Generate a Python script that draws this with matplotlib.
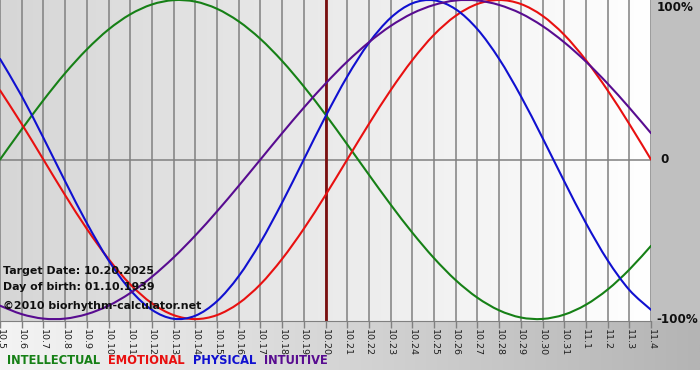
import numpy as np
import matplotlib
matplotlib.use("Agg")
import matplotlib.pyplot as plt
from matplotlib.colors import LinearSegmentedColormap
from matplotlib.path import Path
from matplotlib.patches import PathPatch

# ---- data ----
dates = ["10.5", "10.6", "10.7", "10.8", "10.9", "10.10", "10.11", "10.12", "10.13",
         "10.14", "10.15", "10.16", "10.17", "10.18", "10.19", "10.20", "10.21", "10.22",
         "10.23", "10.24", "10.25", "10.26", "10.27", "10.28", "10.29", "10.30", "10.31",
         "11.1", "11.2", "11.3", "11.4"]
intellectual = [0.0, 0.189, 0.372, 0.541, 0.690, 0.815, 0.910, 0.972, 0.999, 0.990, 0.945,
                0.866, 0.756, 0.618, 0.458, 0.282, 0.095, -0.095, -0.282, -0.458, -0.618,
                -0.756, -0.866, -0.945, -0.990, -0.999, -0.972, -0.910, -0.815, -0.690, -0.541]
emotional = [0.434, 0.223, 0.0, -0.223, -0.434, -0.623, -0.782, -0.901, -0.975, -1.0, -0.975,
             -0.901, -0.782, -0.623, -0.434, -0.223, 0.0, 0.223, 0.434, 0.623, 0.782,
             0.901, 0.975, 1.0, 0.975, 0.901, 0.782, 0.623, 0.434, 0.223, 0.0]
physical = [0.631, 0.398, 0.136, -0.136, -0.398, -0.631, -0.817, -0.942, -0.998, -0.979, -0.888,
            -0.731, -0.520, -0.270, 0.0, 0.270, 0.520, 0.731, 0.888, 0.979, 0.998,
            0.942, 0.817, 0.631, 0.398, 0.136, -0.136, -0.398, -0.631, -0.817, -0.942]
intuitive = [-0.916, -0.969, -0.997, -0.997, -0.969, -0.916, -0.837, -0.735, -0.614, -0.476, -0.325,
             -0.165, 0.0, 0.165, 0.325, 0.476, 0.614, 0.735, 0.837, 0.916, 0.969,
             0.997, 0.997, 0.969, 0.916, 0.837, 0.735, 0.614, 0.476, 0.325, 0.165]
target_label = "10.20"
series_names = ["INTELLECTUAL", "EMOTIONAL", "PHYSICAL", "INTUITIVE"]
y_labels = ["100%", "0", "-100%"]
info_lines = ["Target Date: 10.20.2025", "Day of birth: 01.10.1939", "\u00a92010 biorhythm-calculator.net"]

# ---- styling ----
W, H = 700, 380
colors = {"INTELLECTUAL": "#168016", "EMOTIONAL": "#e81010", "PHYSICAL": "#1010d0", "INTUITIVE": "#580c90"}
x = np.arange(len(dates), dtype=float)

fig = plt.figure(figsize=(W / 100, H / 100), dpi=100)
fig.patch.set_facecolor("white")

def fx(px):
    return px / W

def fy(py):
    return 1 - py / H

# right gray margin
rm = fig.add_axes([fx(651), fy(321), fx(49), 321 / H])
rm.set_facecolor("#c0c0c0")
rm.set_xticks([]); rm.set_yticks([])
for s in rm.spines.values():
    s.set_visible(False)

# bottom gradient strip
bs = fig.add_axes([0, fy(370), 1, 49 / H])
cm_b = LinearSegmentedColormap.from_list("b", ["#f4f4f4", "#b4b4b4"])
bs.imshow(np.linspace(0, 1, 256)[None, :], aspect="auto", cmap=cm_b, extent=[0, 1, 0, 1])
bs.set_xticks([]); bs.set_yticks([])
for s in bs.spines.values():
    s.set_visible(False)

# main plot
ax = fig.add_axes([0, fy(321), fx(651), 321 / H])
ax.set_xlim(0, len(dates) - 1)
ax.set_ylim(-1.012, 1.0)
cm_p = LinearSegmentedColormap.from_list("p", ["#d6d6d6", "#ffffff"])
ax.imshow(np.linspace(0, 1, 256)[None, :], aspect="auto", cmap=cm_p,
          extent=[0, len(dates) - 1, -1.012, 1.0], zorder=0)

for xi in x:
    ax.axvline(xi, color="#808080", lw=1.1, zorder=1)
ax.axhline(0, color="#808080", lw=1.1, zorder=1)

ti = dates.index(target_label)
ax.axvline(x[ti], color="#7a1010", lw=2, zorder=2)


def smooth_path(xs, ys):
    """Catmull-Rom curve through the data points, as cubic Bezier segments."""
    pts = np.column_stack([xs, ys])
    n = len(pts)
    verts = [pts[0]]
    codes = [Path.MOVETO]
    for i in range(n - 1):
        p0 = pts[i - 1] if i > 0 else pts[i]
        p1 = pts[i]
        p2 = pts[i + 1]
        p3 = pts[i + 2] if i + 2 < n else pts[i + 1]
        c1 = p1 + (p2 - p0) / 6.0
        c2 = p2 - (p3 - p1) / 6.0
        verts += [c1, c2, p2]
        codes += [Path.CURVE4] * 3
    return Path(verts, codes)


for name, vals in zip(series_names, [intellectual, emotional, physical, intuitive]):
    patch = PathPatch(smooth_path(x, np.array(vals)), fill=False, edgecolor=colors[name],
                      lw=1.5, zorder=3, capstyle="round", joinstyle="round")
    ax.add_patch(patch)

ax.set_xticks(x)
ax.set_xticklabels(dates, rotation=-90, fontsize=6.8, family="DejaVu Sans", color="#202020")
ax.tick_params(axis="x", length=5, width=1, color="#808080", pad=1)
ax.set_yticks([])
for k, s in ax.spines.items():
    s.set_visible(False)
ax.spines["bottom"].set_visible(True)
ax.spines["bottom"].set_color("#808080")

for txt, yy in zip(y_labels, [1.0, 0.0, -1.0]):
    ax.text(1.008 + (0.006 if txt == "0" else 0), yy - (0.0 if txt != "100%" else 0.05), txt,
            transform=ax.get_yaxis_transform(), fontsize=8.6, fontweight="bold",
            va="center", ha="left", color="#101010", clip_on=False)

for txt, py in zip(info_lines, [271, 287, 306]):
    fig.text(fx(3), fy(py), txt, fontsize=7.9, fontweight="bold", va="center", ha="left",
             color="#101010", zorder=10)

# legend texts
xpos = 7
for name in series_names:
    t = fig.text(fx(xpos), fy(361), name, fontsize=8.3, fontweight="bold", va="center",
                 ha="left", color=colors[name], family="DejaVu Sans")
    fig.canvas.draw()
    bb = t.get_window_extent()
    xpos += bb.width + 8

fig.savefig("out.png", dpi=100)
